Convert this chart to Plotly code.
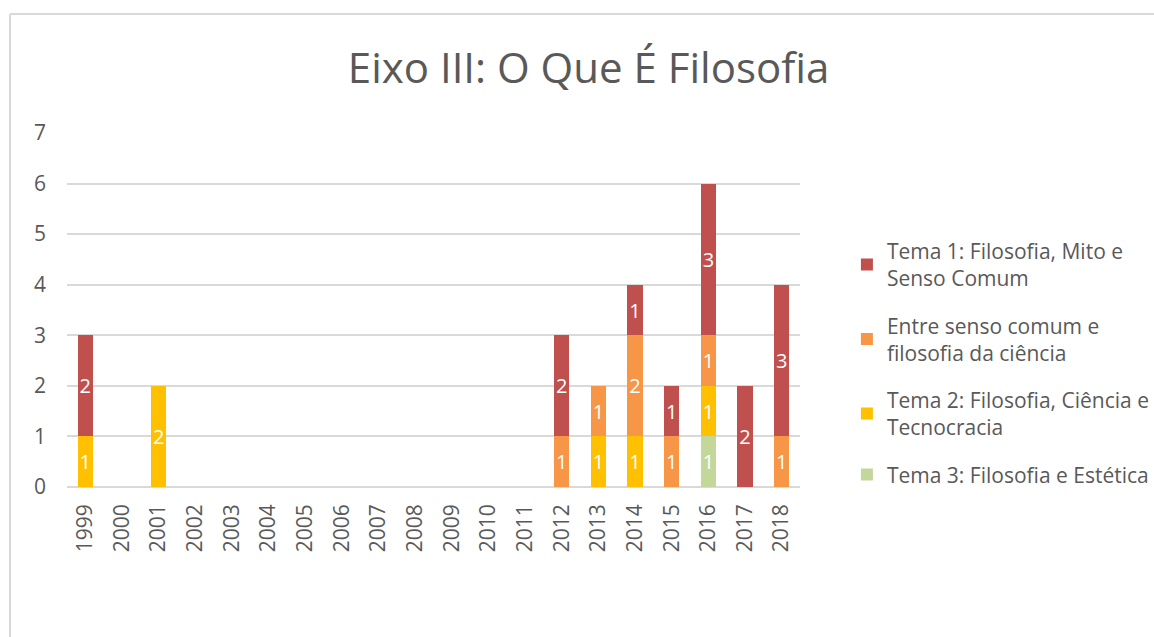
import plotly.graph_objects as go

years = [str(y) for y in range(1999, 2019)]
tema3 = [0]*17 + [1] + [0, 0]
tema2 = [1, 0, 2] + [0]*11 + [1, 1, 0, 1, 0, 0]
entre = [0]*13 + [1, 1, 2, 1, 1, 0, 1]
tema1 = [2] + [0]*12 + [2, 0, 1, 1, 3, 2, 3]

series = [
    ("Tema 3: Filosofia e Estética", tema3, "#C4D79B", 4),
    ("Tema 2: Filosofia, Ciência e<br>Tecnocracia", tema2, "#FFC000", 3),
    ("Entre senso comum e<br>filosofia da ciência", entre, "#F79646", 2),
    ("Tema 1: Filosofia, Mito e<br>Senso Comum", tema1, "#C0504D", 1),
]

font = "Open Sans, sans-serif"
fig = go.Figure()
for i, (name, vals, col, rank) in enumerate(series):
    fig.add_trace(go.Bar(
        x=years, y=[v if v else None for v in vals], name=name,
        marker=dict(color=col, line=dict(width=0)),
        text=[str(v) if v else "" for v in vals],
        textposition="inside", insidetextanchor="middle", constraintext="none",
        textfont=dict(color="white", size=20, family=font),
        legendgroup=str(i), legendrank=rank,
    ))

fig.update_layout(
    barmode="stack", bargap=0.58,
    width=1154, height=637,
    margin=dict(l=67, r=354, t=133, b=150, autoexpand=False),
    paper_bgcolor="white", plot_bgcolor="white",
    title=dict(text="Eixo III: O Que É Filosofia", x=0.51, xanchor="center",
               y=0.893, yanchor="middle",
               font=dict(size=42, color="#595959", family=font)),
    font=dict(family=font, color="#595959"),
    legend=dict(x=1.064, y=0.35, xanchor="left", yanchor="middle",
                traceorder="grouped", tracegroupgap=17,
                font=dict(size=21, color="#595959", family=font),
                itemwidth=30),
    yaxis=dict(range=[0, 7], dtick=1, showgrid=True, gridcolor="#D9D9D9", gridwidth=2,
               zeroline=True, zerolinecolor="#D9D9D9", zerolinewidth=2,
               tickfont=dict(size=21, color="#595959"), ticklabelstandoff=20),
    xaxis=dict(type="category", tickangle=-90, tickfont=dict(size=21, color="#595959"),
               showline=False, ticks="", ticklabelstandoff=12),
)
# chart frame (left and top edges visible)
fx0 = (10 - 67) / 733
fy1 = (487 - 14) / 354
fig.add_shape(type="line", xref="paper", yref="paper",
              x0=fx0, x1=fx0, y0=(487 - 700) / 354, y1=fy1,
              line=dict(color="#D9D9D9", width=2), layer="below")
fig.add_shape(type="line", xref="paper", yref="paper",
              x0=fx0, x1=(1200 - 67) / 733, y0=fy1, y1=fy1,
              line=dict(color="#D9D9D9", width=2), layer="below")
fig.write_html(
    "out.html",
    config={"displayModeBar": False},
    post_script="document.body.style.margin='0';document.body.style.overflow='hidden';",
)
